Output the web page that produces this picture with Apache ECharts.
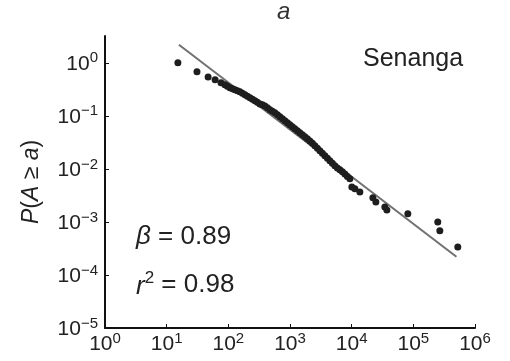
<!DOCTYPE html>
<html>
<head>
<meta charset="utf-8">
<script src="https://cdn.jsdelivr.net/npm/echarts@6/dist/echarts.min.js"></script>
<style>
  html, body { margin: 0; padding: 0; background: #fff; }
  #chart { width: 510px; height: 361px; }
</style>
</head>
<body>
<div id="chart"></div>
<script>
// tick positions (decades)
const xTickValues = [1, 10, 100, 1e3, 1e4, 1e5, 1e6];
const yTickValues = [1e-5, 1e-4, 1e-3, 1e-2, 1e-1, 1];

const areaX = [15.2, 31, 47, 61, 76, 88, 96.7, 106, 116.6, 128, 140.4, 154, 169.2, 186,
  204, 224, 246, 270, 296, 325, 357, 392, 430, 472, 518, 569, 625, 686, 753, 827, 908,
  996, 1094, 1200, 1318, 1446, 1589, 1743, 1914, 2101, 2307, 2532, 2781, 3051, 3350,
  3677, 4039, 4431, 4867, 5340, 5865, 6435, 7070, 7755, 8519, 9345,
  10070, 11270, 13580, 22070, 24680, 34500, 37200, 81400, 249000, 269000, 526000];
const probY = [1.0, 0.68, 0.54, 0.48, 0.42, 0.385, 0.360, 0.337, 0.323, 0.31, 0.296,
  0.284, 0.266, 0.249, 0.233, 0.219, 0.205, 0.192, 0.180, 0.168, 0.161, 0.154, 0.1416,
  0.130, 0.1216, 0.114, 0.1044, 0.0958, 0.0878, 0.0805, 0.0738, 0.0676, 0.0620, 0.0569,
  0.0521, 0.0478, 0.0438, 0.0402, 0.0368, 0.0337, 0.0303, 0.0272, 0.0244, 0.0219,
  0.0196, 0.0176, 0.0158, 0.0142, 0.0127, 0.0114, 0.01044, 0.0096, 0.00878, 0.0080,
  0.00722, 0.0065,
  0.00457, 0.0042, 0.00368, 0.00284, 0.00238, 0.00192, 0.00168, 0.00142, 0.00100, 0.00068, 0.000337];

// power-law fit, beta = 0.89
const fitX = [15.8, 5.0e5];
const fitY = [2.19, 2.2e-4];

const FONT = '"Liberation Sans", Arial, sans-serif';

function powLabel(v) {
  const e = Math.round(Math.log10(v));
  return '{b|10}{s|' + (e < 0 ? '\u2212' + (-e) : e) + '}';
}
const powRich = {
  b: { fontFamily: FONT, fontSize: 21, color: '#222', lineHeight: 24, verticalAlign: 'bottom' },
  s: { fontFamily: FONT, fontSize: 15, color: '#222', verticalAlign: 'top', lineHeight: 15 }
};

const myChart = echarts.init(document.getElementById('chart'));

myChart.setOption({
  animation: false,
  backgroundColor: '#fff',
  grid: { left: 105, right: 35, top: 36, bottom: 33 },
  xAxis: {
    type: 'log',
    logBase: 10,
    min: 1,
    max: 1e6,
    splitLine: { show: false },
    axisLine: { lineStyle: { color: '#111', width: 2 } },
    axisTick: { inside: true, length: 4, customValues: xTickValues, lineStyle: { color: '#111' } },
    axisLabel: { customValues: xTickValues, formatter: powLabel, rich: powRich, margin: 3 }
  },
  yAxis: {
    type: 'log',
    logBase: 10,
    min: 1e-5,
    max: 3.2,
    name: '{i|P}({i|A} \u2265 {i|a})',
    nameLocation: 'middle',
    nameGap: 62,
    nameTextStyle: {
      fontFamily: FONT, fontSize: 23, color: '#222',
      rich: { i: { fontFamily: FONT, fontSize: 23, fontStyle: 'italic', color: '#222' } }
    },
    splitLine: { show: false },
    axisLine: { lineStyle: { color: '#111', width: 2 } },
    axisTick: { inside: true, length: 4, customValues: yTickValues, lineStyle: { color: '#111' } },
    axisLabel: { customValues: yTickValues, formatter: powLabel, rich: powRich, margin: 7 }
  },
  series: [
    {
      name: 'fit',
      type: 'line',
      data: fitX.map((x, i) => [x, fitY[i]]),
      showSymbol: false,
      lineStyle: { color: '#707070', width: 2 },
      z: 1
    },
    {
      name: 'data',
      type: 'scatter',
      data: areaX.map((x, i) => [x, probY[i]]),
      symbolSize: 7,
      itemStyle: { color: '#1e1e1e', opacity: 1 },
      z: 2
    }
  ],
  graphic: [
    {
      type: 'text', left: 277, top: 0,
      style: { text: 'a', font: 'italic 24px ' + FONT, fill: '#333' }
    },
    {
      type: 'text', left: 363, top: 47,
      style: { text: 'Senanga', font: '25px ' + FONT, fill: '#222' }
    },
    {
      type: 'text', left: 136, top: 224,
      style: {
        text: '{i|\u03b2} = 0.89',
        font: '26px ' + FONT, fill: '#222',
        rich: { i: { fontFamily: FONT, fontSize: 26, fontStyle: 'italic', fill: '#222' } }
      }
    },
    {
      type: 'text', left: 136, top: 270,
      style: {
        text: '{i|r}{s|2} = 0.98',
        font: '26px ' + FONT, fill: '#222',
        rich: {
          i: { fontFamily: FONT, fontSize: 26, fontStyle: 'italic', fill: '#222', lineHeight: 30, verticalAlign: 'bottom' },
          s: { fontFamily: FONT, fontSize: 17, fill: '#222', verticalAlign: 'top', lineHeight: 17 }
        }
      }
    }
  ]
});
</script>
</body>
</html>
